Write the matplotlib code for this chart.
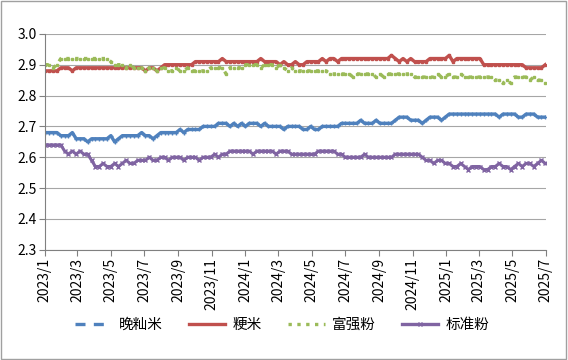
import pandas as pd
import matplotlib.pyplot as plt
from matplotlib.lines import Line2D
from matplotlib.patches import Rectangle

plt.rcParams['font.family'] = ['Noto Sans CJK SC', 'DejaVu Sans']

# weekly price points, 2023/1 - 2025/7
dates = pd.date_range('2023-01-02', periods=131, freq='7D')

wan_xian_mi = (
    [2.68] * 4 + [2.67] * 3 + [2.68] + [2.66] * 3 + [2.65, 2.66] + [2.66] * 4
    + [2.67] + [2.65, 2.66] + [2.67] * 4 + [2.67, 2.68, 2.67, 2.67, 2.66, 2.67]
    + [2.68] * 4 + [2.68, 2.69, 2.68] + [2.69] * 4 + [2.70] * 4 + [2.71] * 3
    + [2.70, 2.71, 2.70, 2.71, 2.70] + [2.71] * 3 + [2.70, 2.71, 2.70, 2.70]
    + [2.70, 2.70, 2.69, 2.70, 2.70, 2.70, 2.70] + [2.69, 2.69, 2.70, 2.69, 2.69]
    + [2.70] * 5 + [2.71] * 3 + [2.71, 2.71, 2.72, 2.71, 2.71, 2.71, 2.72]
    + [2.71] * 4 + [2.72] + [2.73] * 3 + [2.72] * 3 + [2.71]
    + [2.72, 2.73, 2.73, 2.73] + [2.72] + [2.73, 2.74] + [2.74] * 12 + [2.73]
    + [2.74] * 4 + [2.73] * 2 + [2.74] * 3 + [2.73] * 3
)

geng_mi = (
    [2.88] * 4
    + [2.89, 2.89, 2.89, 2.88] + [2.89] * 18 + [2.88, 2.89, 2.89, 2.88, 2.89]
    + [2.90] * 8
    + [2.91] * 7 + [2.92] + [2.91] * 9 + [2.92] + [2.91] * 4
    + [2.90, 2.91, 2.90, 2.90, 2.91, 2.90, 2.90, 2.91] + [2.91] * 3
    + [2.92, 2.91, 2.92, 2.92, 2.91, 2.92, 2.92]
    + [2.92] * 11 + [2.93, 2.92]
    + [2.91, 2.92, 2.91, 2.92, 2.91] + [2.91, 2.91, 2.91, 2.92, 2.92, 2.92]
    + [2.92, 2.92, 2.93, 2.91, 2.92] + [2.92] * 6
    + [2.90] * 11 + [2.89] * 3 + [2.89, 2.89, 2.90]
)

fu_qiang_fen = (
    [2.90, 2.90] + [2.89, 2.90] + [2.92] * 13 + [2.91] + [2.90] * 2
    + [2.90, 2.89, 2.90, 2.89, 2.89] + [2.89, 2.88, 2.89, 2.89, 2.88, 2.89]
    + [2.89, 2.88, 2.88, 2.89, 2.88, 2.88, 2.89, 2.88] + [2.88] * 4
    + [2.89] * 4 + [2.87, 2.89, 2.89, 2.89, 2.89] + [2.90] * 4 + [2.89]
    + [2.90] * 2 + [2.90, 2.89, 2.90] + [2.89, 2.88, 2.89] + [2.88] * 9
    + [2.87] * 6 + [2.86] + [2.87] * 5 + [2.86] + [2.87, 2.86, 2.87]
    + [2.87] * 2 + [2.87] * 4 + [2.86] * 6 + [2.87] + [2.86] * 2 + [2.87]
    + [2.86] * 2 + [2.87] + [2.86] * 8 + [2.85] * 2 + [2.84] + [2.85, 2.84]
    + [2.86] * 2 + [2.86, 2.86, 2.85, 2.86, 2.85, 2.85] + [2.84]
)

biao_zhun_fen = (
    [2.64] * 5 + [2.62] + [2.61, 2.62, 2.61, 2.62, 2.61, 2.61] + [2.59]
    + [2.57, 2.57, 2.58, 2.57, 2.57, 2.58, 2.57] + [2.58, 2.59, 2.58, 2.58, 2.59]
    + [2.59, 2.59, 2.60, 2.59, 2.59]
    + [2.60, 2.60, 2.59, 2.60, 2.60, 2.60, 2.59, 2.60, 2.60, 2.60, 2.59, 2.60, 2.60]
    + [2.60, 2.61, 2.60, 2.61, 2.61]
    + [2.62] * 6 + [2.61] + [2.62] * 5 + [2.61] + [2.62] * 3
    + [2.61] * 7 + [2.62] * 5 + [2.61] * 2
    + [2.60] * 5 + [2.61] + [2.60] * 7 + [2.61] * 7 + [2.60]
    + [2.59, 2.59, 2.58, 2.59, 2.59, 2.58] + [2.58]
    + [2.57, 2.57, 2.58, 2.57, 2.56, 2.57, 2.57, 2.57, 2.56, 2.56, 2.57, 2.57,
       2.58, 2.57, 2.57, 2.56, 2.57]
    + [2.58, 2.57, 2.58, 2.58, 2.57] + [2.58, 2.59, 2.58]
)

tick_dates = pd.date_range('2023-01-01', '2025-07-01', freq='2MS')
tick_labels = ['2023/1', '2023/3', '2023/5', '2023/7', '2023/9', '2023/11',
               '2024/1', '2024/3', '2024/5', '2024/7', '2024/9', '2024/11',
               '2025/1', '2025/3', '2025/5', '2025/7']
y_ticks = [2.3, 2.4, 2.5, 2.6, 2.7, 2.8, 2.9, 3.0]

blue, red, green, purple = '#4F81BD', '#C0504D', '#9BBB59', '#8064A2'

fig = plt.figure(figsize=(5.68, 3.6), dpi=100)
ax = fig.add_axes([0.079, 0.306, 0.882, 0.6])

ax.plot(dates, wan_xian_mi, color=blue, lw=2.4, marker='+', ms=3, mew=1)
ax.plot(dates, geng_mi, color=red, lw=2.4, marker='s', ms=1.5)
ax.plot(dates, fu_qiang_fen, color=green, lw=2.4, ls=':', marker='s', ms=1.5)
ax.plot(dates, biao_zhun_fen, color=purple, lw=2.2, marker='x', ms=3, mew=1)

ax.set_ylim(2.3, 3.0)
ax.set_yticks(y_ticks)
ax.set_yticklabels([f'{v:.1f}' for v in y_ticks])
ax.set_xlim(pd.Timestamp('2023-01-01'), pd.Timestamp('2025-07-01'))
ax.set_xticks(tick_dates)
ax.set_xticklabels(tick_labels, rotation=90)
ax.tick_params(labelsize=10, length=4, width=0.8, pad=2,
               colors='#808080', labelcolor='black')

ax.grid(axis='y', color='#A6A6A6', lw=0.8)
ax.set_axisbelow(True)
for s in ['top', 'right']:
    ax.spines[s].set_visible(False)
for s in ['left', 'bottom']:
    ax.spines[s].set_color('#808080')
    ax.spines[s].set_linewidth(0.8)

handles = [
    Line2D([], [], color=blue, lw=2.4, ls=(0, (3, 2.5))),
    Line2D([], [], color=red, lw=2.4),
    Line2D([], [], color=green, lw=2.4, ls=':'),
    Line2D([], [], color=purple, lw=2.4, marker='x', ms=3, mew=1),
]
fig.legend(handles, ['晚籼米', '粳米', '富强粉', '标准粉'], loc='center',
           bbox_to_anchor=(0.497, 0.097), ncol=4, frameon=False, fontsize=10.5,
           handlelength=2.5, columnspacing=1.8, handletextpad=0.5)

fig.patches.append(Rectangle((0.002, 0.003), 0.995, 0.993, transform=fig.transFigure,
                             fill=False, edgecolor='#A0A0A0', lw=1))

plt.savefig('out.png')
